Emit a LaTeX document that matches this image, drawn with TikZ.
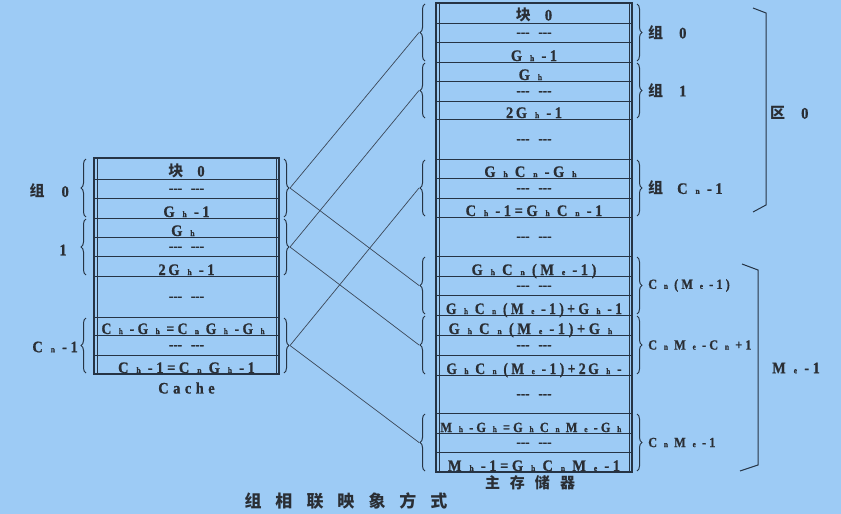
\documentclass[tikz,border=0pt]{standalone}
\usepackage{fontspec}
\setmainfont{Liberation Serif}
\newfontfamily\cjk{Noto Sans CJK SC}
\newfontfamily\spacedfont{Liberation Serif Bold}[LetterSpace=25, FakeBold=0.8]
\usetikzlibrary{decorations.pathreplacing,calc}
\definecolor{bgc}{HTML}{9DCBF5}
\definecolor{ink}{HTML}{263445}
\definecolor{txtc}{HTML}{2A2E34}
\newcommand\T[1]{{\spacedfont\fontsize{16}{16}\selectfont\scalebox{0.9}[1]{#1}}}
\newcommand\Tn[1]{{\spacedfont\fontsize{16}{16}\selectfont\scalebox{0.85}[1]{#1}}}
\newcommand\Ts[1]{{\spacedfont\fontsize{14}{14}\selectfont\scalebox{0.88}[1]{#1}}}
\newcommand\lo[1]{\kern0.55em{\fontsize{8.5}{8.5}\selectfont #1}\kern0.5em}
\newcommand\Z[1]{{\cjk\bfseries\fontsize{15}{15}\selectfont #1}}
\newcommand\Zs[2]{{\cjk\bfseries\fontsize{#1}{#1}\selectfont #2}}
\newcommand\dd{{\fontspec{Liberation Serif Bold}[FakeBold=0.8]\fontsize{13}{13}\selectfont\mbox{-}\mbox{-}\mbox{-}\hspace{9pt}\mbox{-}\mbox{-}\mbox{-}}}
\begin{document}
\begin{tikzpicture}[x=1pt,y=-1pt,
  cellc/.style={draw=ink, line width=0.9pt, minimum width=185pt, inner sep=0, outer sep=0},
  cellm/.style={draw=ink, line width=0.9pt, minimum width=196pt, inner sep=0, outer sep=0},
  txt/.style={anchor=base, inner sep=0, text=txtc},
  dsh/.style={anchor=center, inner sep=0, text=txtc, text height=4.5pt, text depth=0pt, yshift=-1.5pt},
  lbl/.style={anchor=west, inner sep=0, text=txtc},
  lble/.style={anchor=east, inner sep=0, text=txtc},
  ctr/.style={anchor=center, inner sep=0, text=txtc},
  brc/.style={draw=ink, line width=1pt, decorate, decoration={brace, amplitude=5pt}},
  link/.style={draw=ink!90, line width=0.7pt},
  frame/.style={draw=ink, line width=1.4pt},
  dbl/.style={draw=ink, line width=0.9pt},
  brk/.style={draw=ink, line width=1pt},
]
\fill[bgc] (0,0) rectangle (841,514);
\useasboundingbox (0,0) rectangle (841,514);

% ---------------- Cache rows
\foreach \i/\a/\b in {1/158/179,2/179/198,3/198/218,4/218/237,5/237/256,6/256/276,7/276/317,8/317/335,9/335/355,10/355/374}{
  \pgfmathsetmacro\h{\b-\a}
  \node[cellc, minimum height=\h pt] (c\i) at (186.5,{(\a+\b)/2}) {};
}
\draw[frame] (c1.north west) rectangle (c10.south east);
\draw[dbl] ([xshift=3pt]c1.north west) -- ([xshift=3pt]c10.south west);
\draw[dbl] ([xshift=-3pt]c1.north east) -- ([xshift=-3pt]c10.south east);

\node[txt] (ct1) at ([yshift=2.5pt]c1.south) {\Z{块}\hspace{14pt}\T{0}};
\node[txt] (ct3) at ([yshift=1pt]c3.south) {\T{G\lo{h}-1}};
\node[txt] (ct4) at ([yshift=1pt]c4.south) {\T{G\lo{h}}};
\node[txt] (ct6) at ([yshift=1pt]c6.south) {\T{2\kern3pt G\lo{h}-1}};
\node[txt] (ct8) at ([yshift=1pt]c8.south) {\Tn{C\lo{h}-G\lo{h}=C\lo{n}G\lo{h}-G\lo{h}}};
\node[txt] (ct10) at ([yshift=1pt]c10.south) {\T{C\lo{h}-1=C\lo{n}G\lo{h}-1}};
\foreach \i in {2,5,7,9}{ \node[dsh] (cd\i) at (c\i) {\dd}; }
\node[ctr] (cachelbl) at ([yshift=-14pt]c10.south) {\T{C\hspace{5pt}a\hspace{5pt}c\hspace{5pt}h\hspace{5pt}e}};

% Cache braces
\foreach \g/\f/\l in {0/1/3,1/4/6,2/8/10}{
  \draw[brc] ([xshift=-8pt,yshift=1pt]c\l.south west) -- ([xshift=-8pt,yshift=-1pt]c\f.north west);
  \draw[brc] ([xshift=5pt,yshift=-1pt]c\f.north east) -- ([xshift=5pt,yshift=1pt]c\l.south east);
  \coordinate (cR\g) at ($(c\f.north east)!0.5!(c\l.south east)+(11,0)$);
}
\node[lble] (cl0) at (69,191) {\Z{组}\hspace{17pt}\T{0}};
\node[ctr] (cl1) at (63,250) {\T{1}};
\node[lble] (cl2) at (78,347) {\T{C\lo{n}-1}};

% ---------------- Main memory rows
\foreach \i/\a/\b in {1/3/23,2/23/42,3/42/62,4/62/81,5/81/101,6/101/119,7/119/159,8/159/178,9/178/198,10/198/217,11/217/256,12/256/276,13/276/295,14/295/315,15/315/335,16/335/355,17/355/375,18/375/413,19/413/433,20/433/452,21/452/472}{
  \pgfmathsetmacro\h{\b-\a}
  \node[cellm, minimum height=\h pt] (m\i) at (534,{(\a+\b)/2}) {};
}
\draw[frame] (m1.north west) rectangle (m21.south east);
\draw[dbl] ([xshift=3pt]m1.north west) -- ([xshift=3pt]m21.south west);
\draw[dbl] ([xshift=-3pt]m1.north east) -- ([xshift=-3pt]m21.south east);

\node[txt] (mt1) at ([yshift=2.5pt]m1.south) {\Z{块}\hspace{14pt}\T{0}};
\node[txt] (mt3) at ([yshift=1pt]m3.south) {\T{G\lo{h}-1}};
\node[txt] (mt4) at ([yshift=1pt]m4.south) {\T{G\lo{h}}};
\node[txt] (mt6) at ([yshift=1pt]m6.south) {\T{2\kern3pt G\lo{h}-1}};
\node[txt] (mt8) at ([yshift=1pt]m8.south) {\T{G\lo{h}C\lo{n}-G\lo{h}}};
\node[txt] (mt10) at ([yshift=1pt]m10.south) {\T{C\lo{h}-1=G\lo{h}C\lo{n}-1}};
\node[txt] (mt12) at ([yshift=1pt]m12.south) {\T{G\lo{h}C\lo{n}(M\lo{e}-1)}};
\node[txt] (mt14) at ([yshift=1pt]m14.south) {\Tn{G\lo{h}C\lo{n}(M\lo{e}-1)+G\lo{h}-1}};
\node[txt] (mt15) at ([yshift=1pt]m15.south) {\T{G\lo{h}C\lo{n}(M\lo{e}-1)+G\lo{h}}};
\node[txt] (mt17) at ([yshift=1pt]m17.south) {\Tn{G\lo{h}C\lo{n}(M\lo{e}-1)+2\kern3pt G\lo{h}-}};
\node[txt] (mt19) at ([yshift=1pt]m19.south) {\Ts{M\lo{h}-G\lo{h}=G\lo{h}C\lo{n}M\lo{e}-G\lo{h}}};
\node[txt] (mt21) at ([yshift=1pt]m21.south) {\T{M\lo{h}-1=G\lo{h}C\lo{n}M\lo{e}-1}};
\foreach \i in {2,5,7,9,11,13,16,18,20}{ \node[dsh] (md\i) at (m\i) {\dd}; }
\node[ctr] (mainlbl) at ([xshift=-4pt,yshift=-11pt]m21.south) {\Zs{15}{主\hspace{10pt}存\hspace{10pt}储\hspace{10pt}器}};

% Main braces
\foreach \g/\f/\l in {0/1/3,1/4/6,2/8/10,3/12/14,4/15/17,5/19/21}{
  \draw[brc] ([xshift=-11pt,yshift=1pt]m\l.south west) -- ([xshift=-11pt,yshift=-1pt]m\f.north west);
  \draw[brc] ([xshift=5pt,yshift=-1pt]m\f.north east) -- ([xshift=5pt,yshift=1pt]m\l.south east);
  \coordinate (mL\g) at ($(m\f.north west)!0.5!(m\l.south west)+(-17,0)$);
  \coordinate (mR\g) at ($(m\f.north east)!0.5!(m\l.south east)+(16,0)$);
}
\node[lbl] (ml0) at (mR0) {\Z{组}\hspace{16pt}\T{0}};
\node[lbl] (ml1) at (mR1) {\Z{组}\hspace{16pt}\T{1}};
\node[lbl] (ml2) at (mR2) {\Z{组}\hspace{14pt}\T{C\lo{n}-1}};
\node[lbl] (ml3) at (mR3) {\Ts{C\lo{n}(M\lo{e}-1)}};
\node[lbl] (ml4) at (mR4) {\Ts{C\lo{n}M\lo{e}-C\lo{n}+1}};
\node[lbl] (ml5) at (mR5) {\Ts{C\lo{n}M\lo{e}-1}};

% Zone brackets
\draw[brk] (753,8) -- (766,13) -- (766,205) -- (753,212);
\node[lbl] (zone0) at (770,113) {\Z{区}\hspace{16pt}\T{0}};
\draw[brk] (742,264) -- (758,270) -- (758,465) -- (740,471);
\node[lbl] (zone1) at (772,368) {\T{M\lo{e}-1}};

% Connectors
\draw[link] (cR0) -- (mL0);
\draw[link] (cR0) -- (mL3);
\draw[link] (cR1) -- (mL1);
\draw[link] (cR1) -- (mL4);
\draw[link] (cR2) -- (mL2);
\draw[link] (cR2) -- (mL5);

% Title
\node[ctr] (title) at (346,501) {\Zs{17}{组\hspace{14pt}相\hspace{14pt}联\hspace{14pt}映\hspace{14pt}象\hspace{14pt}方\hspace{14pt}式}};
\end{tikzpicture}
\end{document}
